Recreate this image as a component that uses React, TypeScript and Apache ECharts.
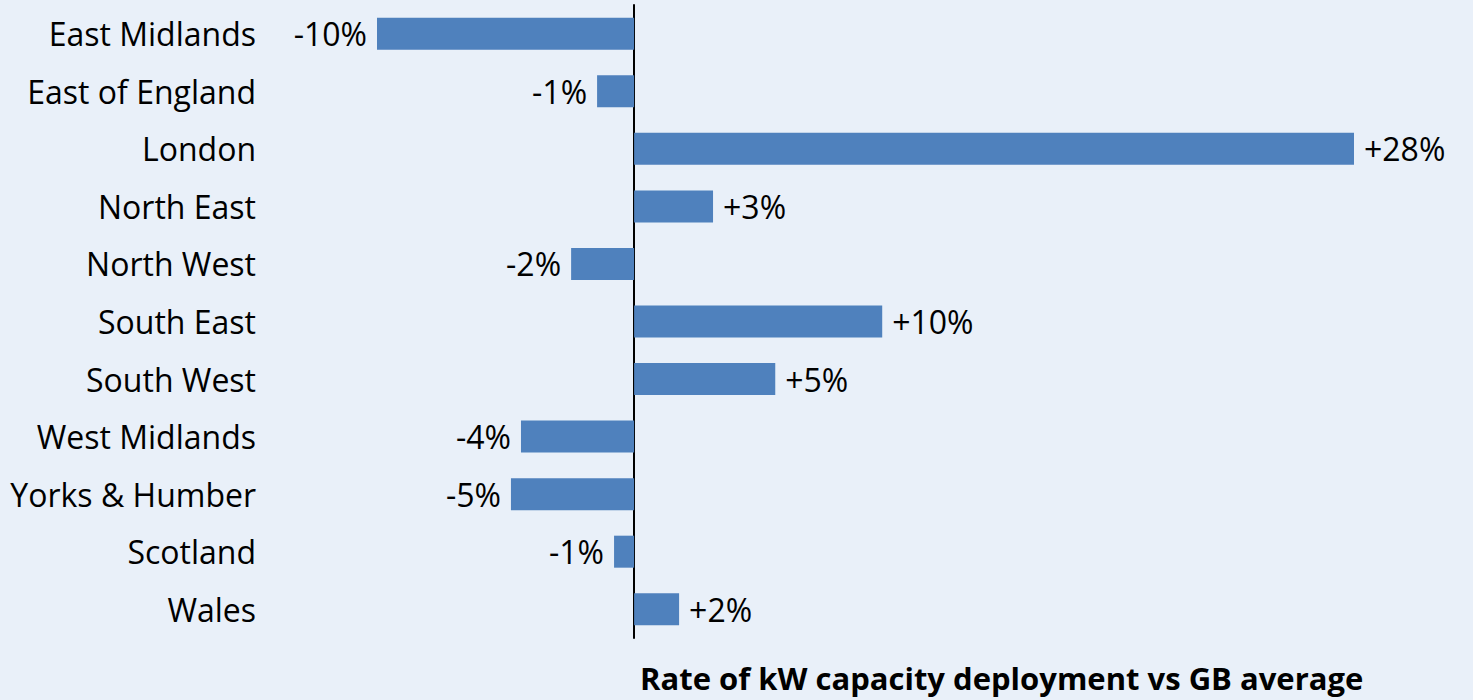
import React, { useEffect, useRef } from "react";
import * as echarts from "echarts";

const regions = [
  "East Midlands",
  "East of England",
  "London",
  "North East",
  "North West",
  "South East",
  "South West",
  "West Midlands",
  "Yorks & Humber",
  "Scotland",
  "Wales",
];
const values = [-10.0, -1.44, 28.0, 3.07, -2.45, 9.65, 5.49, -4.4, -4.79, -0.78, 1.75];
const axisTitle = "Rate of kW capacity deployment vs GB average";

const FONT = "'Open Sans', Lato, sans-serif";

export default function App() {
  const ref = useRef<HTMLDivElement>(null);
  useEffect(() => {
    document.body.style.margin = "0";
    const chart = echarts.init(ref.current!, null, { renderer: "svg" });
    chart.setOption({
      animation: false,
      backgroundColor: "#E9F0F9",
      grid: {
        left: 377,
        right: 1473 - 1354,
        top: 5,
        bottom: 62,
        containLabel: false,
        outerBoundsMode: "none",
      },
      xAxis: {
        type: "value",
        min: -10,
        max: 28,
        show: false,
        splitLine: { show: false },
      },
      yAxis: {
        type: "category",
        data: regions,
        inverse: true,
        axisLine: { show: true, onZero: true, lineStyle: { color: "#000", width: 2 } },
        axisTick: { show: false },
        axisLabel: {
          margin: 377 - 256,
          color: "#000",
          fontSize: 32,
          fontFamily: FONT,
        },
      },
      series: [
        {
          type: "bar",
          barWidth: 32,
          itemStyle: { color: "#4F81BD" },
          data: values.map((v) => ({
            value: v,
            label: {
              show: true,
              position: v < 0 ? "left" : "right",
              distance: 10,
              color: "#000",
              fontSize: 32,
              fontFamily: FONT,
              formatter: () => (v > 0 ? "+" : "") + Math.round(v) + "%",
            },
          })),
        },
      ],
      graphic: [
        {
          type: "text",
          left: 640,
          top: 662,
          style: {
            text: axisTitle,
            fill: "#000",
            font: `bold 31px ${FONT}`,
          },
        },
      ],
    });
    return () => chart.dispose();
  }, []);
  return <div ref={ref} style={{ width: 1473, height: 700 }} />;
}
